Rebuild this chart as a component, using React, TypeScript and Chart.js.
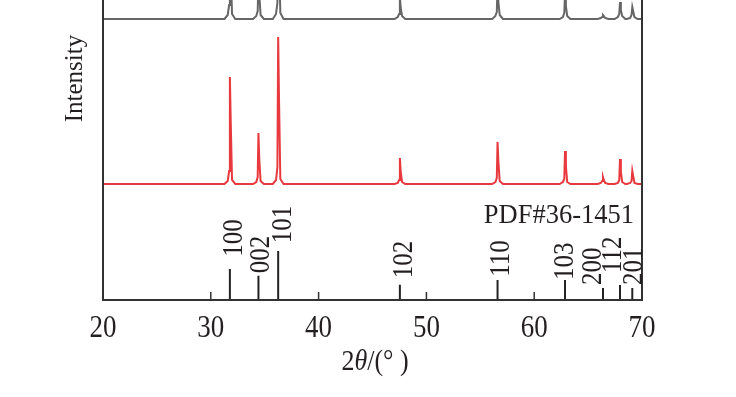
import React, { useEffect, useRef } from "react";
import { Chart, registerables } from "chart.js";

Chart.register(...registerables);

// 2θ positions of the curve points (shared by both patterns)
const twoTheta = [
  20,
  31.27, 31.57, 31.7, 31.77, 31.85, 31.97, 32.27,
  33.92, 34.22, 34.35, 34.42, 34.5, 34.62, 34.92,
  35.75, 36.05, 36.18, 36.25, 36.33, 36.45, 36.75,
  47.04, 47.34, 47.47, 47.54, 47.62, 47.74, 48.04,
  56.1, 56.4, 56.53, 56.6, 56.68, 56.8, 57.1,
  62.36, 62.66, 62.79, 62.86, 62.94, 63.06, 63.36,
  65.88, 66.18, 66.31, 66.38, 66.46, 66.58, 66.88,
  67.46, 67.76, 67.89, 67.96, 68.04, 68.16, 68.46,
  68.6, 68.9, 69.03, 69.1, 69.18, 69.3, 69.6,
  70,
];

// red pattern (offset intensity, arbitrary units)
const redIntensity = [
  116,
  116, 119, 129, 223, 178, 120, 116,
  116, 118, 123, 167, 140, 119, 116,
  116, 120, 133, 263, 200, 121, 116,
  116, 117, 120, 142, 128, 118, 116,
  116, 118, 122, 158, 138, 119, 116,
  116, 118, 121, 149, 134, 118, 116,
  116, 117, 119, 123, 120, 117, 116,
  116, 117, 120, 141, 128, 118, 116,
  116, 117, 119, 129, 124, 117, 116,
  116,
];

// gray pattern (offset intensity, main peaks run off the top)
const grayIntensity = [
  281,
  281, 285, 295, 367, 330, 286, 281,
  281, 284, 289, 322, 305, 285, 281,
  281, 286, 297, 399, 345, 287, 281,
  281, 283, 286, 303, 292, 284, 281,
  281, 284, 288, 315, 298, 285, 281,
  281, 283, 287, 307, 294, 284, 281,
  281, 282, 283, 285, 284, 282, 281,
  281, 283, 286, 298, 290, 284, 281,
  281, 282, 285, 293, 289, 283, 281,
  281,
];

// PDF#36-1451 reference lines
const pdfPositions = [31.77, 34.42, 36.25, 47.54, 56.6, 62.86, 66.38, 67.96, 69.1];
const pdfHeights = [31, 24.3, 49, 15.3, 20, 20, 12, 15, 12];
const pdfLabels = ["100", "002", "101", "102", "110", "103", "200", "112", "201"];

// label placement (2θ of label centre, value where label starts)
const labelCentres = [31.94, 34.47, 36.51, 47.78, 56.73, 62.67, 65.27, 67.12, 69.07];
const labelStarts = [43.3, 26.7, 56.7, 21.7, 23.3, 20, 15, 27, 15];

const xTicks = [20, 30, 40, 50, 60, 70];

const FONT = "'Liberation Serif', 'Times New Roman', serif";
const TEXT = "#231f20";
const AXIS = "#333333";

export default function App() {
  const ref = useRef<HTMLCanvasElement | null>(null);

  useEffect(() => {
    if (!ref.current) return;
    const overlay = {
      id: "overlay",
      afterDatasetsDraw(chart: any) {
        const ctx = chart.ctx as CanvasRenderingContext2D;
        const xs = chart.scales.x;
        const ys = chart.scales.y;
        const a = chart.chartArea;
        ctx.save();
        // reference sticks
        ctx.strokeStyle = "#222";
        ctx.lineWidth = 2;
        pdfPositions.forEach((p, i) => {
          const px = xs.getPixelForValue(p);
          ctx.beginPath();
          ctx.moveTo(px, ys.getPixelForValue(0));
          ctx.lineTo(px, ys.getPixelForValue(pdfHeights[i]));
          ctx.stroke();
        });
        // frame
        ctx.strokeStyle = AXIS;
        ctx.lineWidth = 2;
        ctx.beginPath();
        ctx.moveTo(a.left, a.top);
        ctx.lineTo(a.left, a.bottom);
        ctx.lineTo(a.right, a.bottom);
        ctx.lineTo(a.right, a.top);
        ctx.stroke();
        // ticks inward
        ctx.lineWidth = 1.5;
        xTicks.forEach((t) => {
          const px = xs.getPixelForValue(t);
          ctx.beginPath();
          ctx.moveTo(px, a.bottom);
          ctx.lineTo(px, a.bottom - 8);
          ctx.stroke();
        });
        ctx.fillStyle = TEXT;
        // tick labels
        ctx.font = `27px ${FONT}`;
        ctx.textAlign = "center";
        ctx.textBaseline = "alphabetic";
        xTicks.forEach((t) => {
          const px = xs.getPixelForValue(t);
          ctx.save();
          ctx.translate(px, a.bottom + 36.7);
          ctx.scale(1, 1.15);
          ctx.fillText(String(t), 0, 0);
          ctx.restore();
        });
        // x title
        const parts: [string, string][] = [
          ["2", `26px ${FONT}`],
          ["θ", `italic 26px ${FONT}`],
          ["/(° )", `26px ${FONT}`],
        ];
        let total = 0;
        parts.forEach(([s, f]) => {
          ctx.font = f;
          total += ctx.measureText(s).width;
        });
        let cx = 375 - total / 2;
        ctx.textAlign = "left";
        parts.forEach(([s, f]) => {
          ctx.font = f;
          ctx.save();
          ctx.translate(cx, a.bottom + 70);
          ctx.scale(1, 1.12);
          ctx.fillText(s, 0, 0);
          ctx.restore();
          cx += ctx.measureText(s).width;
        });
        // y title
        ctx.font = `25px ${FONT}`;
        ctx.textAlign = "center";
        ctx.save();
        ctx.translate(81.5, 78.5);
        ctx.rotate(-Math.PI / 2);
        ctx.fillText("Intensity", 0, 0);
        ctx.restore();
        // stick labels
        ctx.font = `25px ${FONT}`;
        ctx.textAlign = "left";
        pdfLabels.forEach((lab, i) => {
          const px = xs.getPixelForValue(labelCentres[i]);
          const py = ys.getPixelForValue(labelStarts[i]);
          ctx.save();
          ctx.translate(px + 10, py);
          ctx.rotate(-Math.PI / 2);
          ctx.scale(1, 1.15);
          ctx.fillText(lab, 0, 0);
          ctx.restore();
        });
        // PDF card label
        ctx.font = `26.5px ${FONT}`;
        ctx.textAlign = "right";
        ctx.fillText("PDF#36-1451", 634, 223.3);
        ctx.restore();
      },
    };

    const chart = new Chart(ref.current, {
      type: "scatter",
      data: {
        datasets: [
          {
            data: twoTheta.map((x, i) => ({ x, y: grayIntensity[i] })),
            showLine: true,
            borderColor: "#666666",
            borderWidth: 2,
            pointRadius: 0,
            tension: 0,
          },
          {
            data: twoTheta.map((x, i) => ({ x, y: redIntensity[i] })),
            showLine: true,
            borderColor: "#e8393e",
            borderWidth: 2,
            pointRadius: 0,
            tension: 0,
          },
        ],
      },
      options: {
        responsive: false,
        animation: false,
        layout: { padding: { left: 103, right: 94, top: 0, bottom: 97 } },
        plugins: { legend: { display: false }, tooltip: { enabled: false } },
        scales: {
          x: { type: "linear", min: 20, max: 70, display: false },
          y: { type: "linear", min: 0, max: 300, display: false },
        },
      },
      plugins: [overlay],
    });
    return () => chart.destroy();
  }, []);

  return (
    <div style={{ position: "absolute", left: 0, top: 0, width: 736, height: 397, background: "#fff" }}>
      <canvas ref={ref} width={736} height={397} />
    </div>
  );
}
